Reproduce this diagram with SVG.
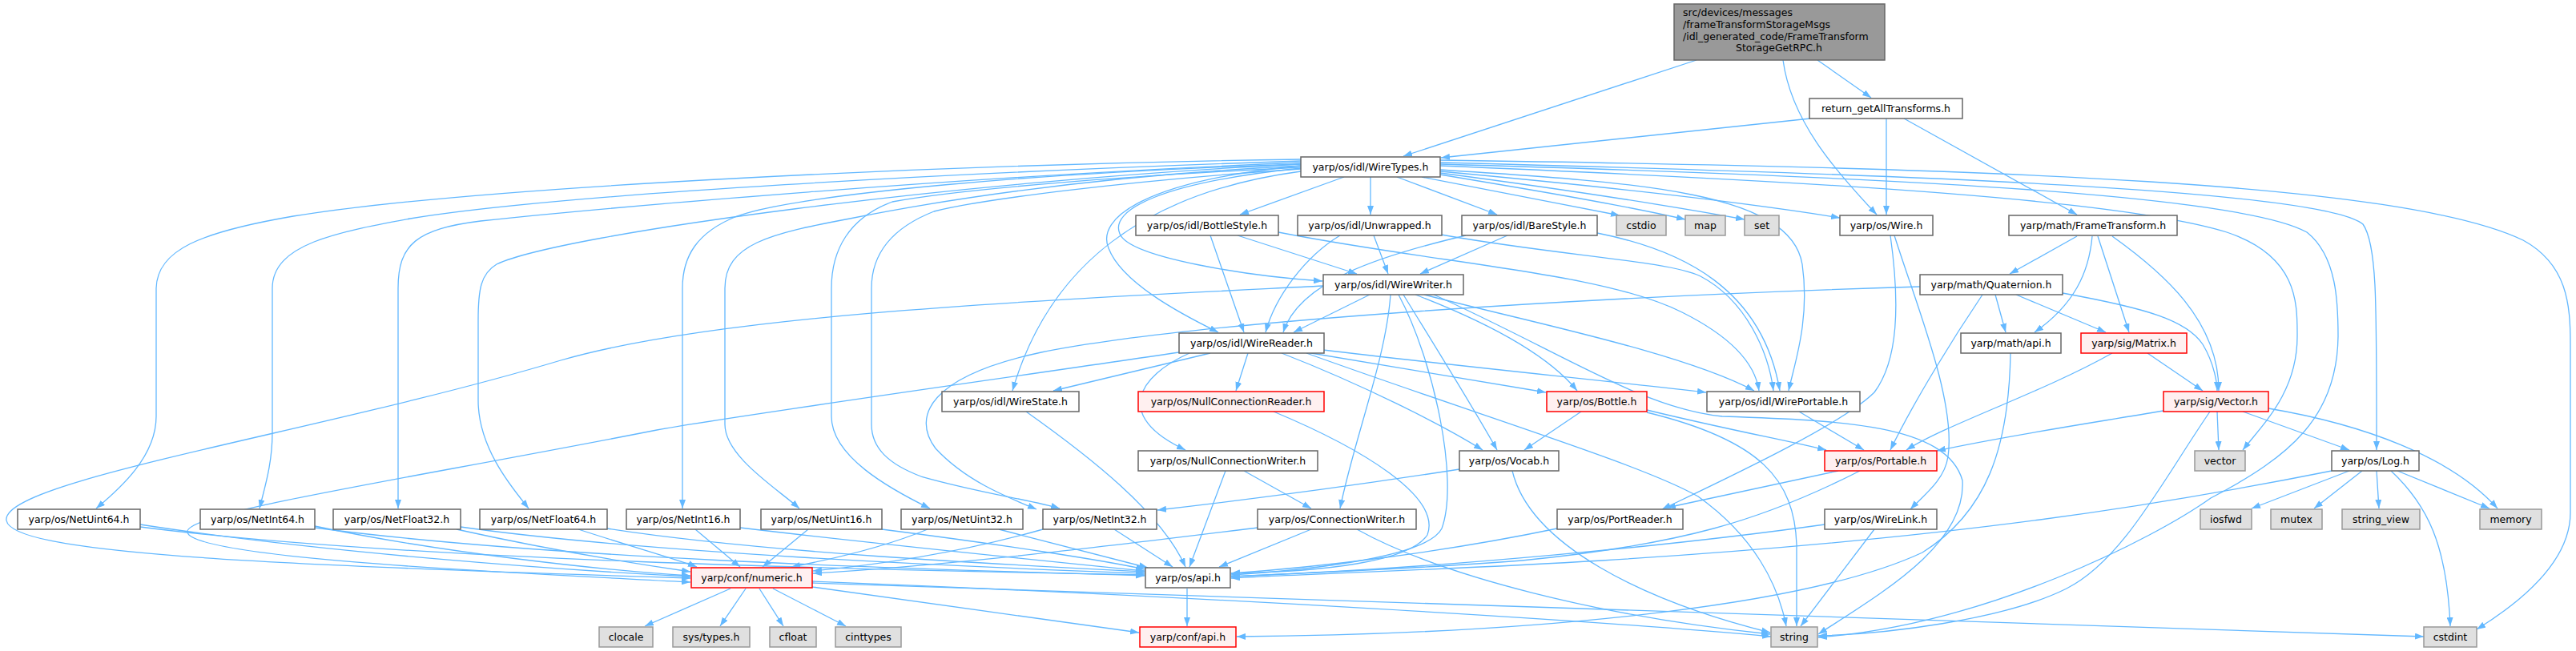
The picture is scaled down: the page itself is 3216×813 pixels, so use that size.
<svg xmlns="http://www.w3.org/2000/svg" width="3216" height="813" viewBox="0 0 3216 813">
<style>
.n rect{fill:#ffffff;stroke:#666666;stroke-width:1.5}
.x rect{fill:#e0e0e0;stroke:#999999;stroke-width:1.5}
.r rect{fill:#fff0f0;stroke:#ff0000;stroke-width:1.5}
.root rect{fill:#999999;stroke:#666666;stroke-width:1.5}
text{font-family:"DejaVu Sans",sans-serif;font-size:12.5px;fill:#000000;text-anchor:middle}
#edges path{fill:none;stroke:#63b8ff;stroke-width:1.3;marker-end:url(#a)}
</style>
<defs>
<marker id="a" markerWidth="11" markerHeight="8" refX="11" refY="4" orient="auto" markerUnits="userSpaceOnUse"><path d="M0,0 L11,4 L0,8 z" fill="#63b8ff" stroke="none"/></marker>
</defs>
<rect width="3216" height="813" fill="#ffffff"/>
<g id="edges">
<path d="M2118,75 L1752,195"/>
<path d="M2226,75 C2236,150 2290,212 2343,268"/>
<path d="M2269,75 L2336,122"/>
<path d="M2260,148 L1799,197"/>
<path d="M2355,148 L2355,268"/>
<path d="M2377,148 L2593,268"/>
<path d="M1798,214 C1950,228 2150,248 2297,272"/>
<path d="M1775,221 L2022,269"/>
<path d="M1798,218 C1900,235 2020,255 2104,274"/>
<path d="M1798,216 C1950,236 2090,258 2178,274"/>
<path d="M1678,221 L1548,268"/>
<path d="M1711,221 L1711,268"/>
<path d="M1744,221 L1869,268"/>
<path d="M1624,210 C1450,228 1385,262 1398,292 C1410,322 1560,345 1651,351"/>
<path d="M1624,207 C1430,226 1368,272 1384,310 C1400,352 1470,390 1521,415"/>
<path d="M1624,214 C1430,240 1310,330 1264,488"/>
<path d="M1798,212 C2050,228 2235,240 2250,330 C2260,400 2240,455 2233,488"/>
<path d="M1798,207 C2300,228 2650,250 2780,290 C2870,320 2868,380 2868,420 C2868,490 2825,530 2800,562"/>
<path d="M1798,205 C2400,222 2800,245 2880,290 C2918,320 2919,380 2919,420 C2918,520 2860,570 2760,622 C2690,672 2480,780 2270,796"/>
<path d="M1798,203 C2400,218 2900,238 2950,280 C2968,305 2967,380 2967,562"/>
<path d="M1798,200 C2500,210 3000,228 3150,300 C3205,330 3209,380 3209,430 L3209,640 C3209,700 3150,750 3092,786"/>
<path d="M1624,199 C1200,205 600,232 366,270 C250,290 196,312 195,360 L195,520 C195,570 150,610 120,635"/>
<path d="M1624,201 C1200,215 700,242 512,273 C420,290 340,305 340,360 L340,540 C340,580 330,610 324,635"/>
<path d="M1624,203 C1200,220 750,260 600,276 C520,286 497,305 497,360 L497,635"/>
<path d="M1624,205 C1200,225 700,292 620,330 C600,342 597,362 597,400 L597,500 C597,560 640,610 660,635"/>
<path d="M1624,205 C1300,215 1000,242 920,270 C870,290 852,320 852,360 L852,635"/>
<path d="M1624,207 C1350,220 1150,255 1061,273 C960,292 905,305 905,360 L905,530 C905,570 970,610 998,635"/>
<path d="M1624,209 C1400,220 1200,236 1114,252 C1060,272 1038,312 1038,360 L1038,520 C1038,570 1110,610 1161,635"/>
<path d="M1624,211 C1400,226 1220,250 1166,264 C1110,286 1088,320 1088,360 L1088,530 C1088,560 1110,580 1150,595 C1220,615 1290,625 1323,635"/>
<path d="M1511,294 L1553,415"/>
<path d="M1545,294 L1694,342"/>
<path d="M1596,290 C1800,330 2000,340 2100,390 C2170,425 2192,460 2196,488"/>
<path d="M1673,294 C1630,320 1592,370 1580,415"/>
<path d="M1715,294 L1733,342"/>
<path d="M1799,293 C1950,320 2080,325 2123,345 C2180,375 2208,440 2214,488"/>
<path d="M1830,294 C1720,320 1622,352 1602,415"/>
<path d="M1882,294 L1773,342"/>
<path d="M1994,291 C2100,312 2200,360 2222,488"/>
<path d="M1710,368 L1615,415"/>
<path d="M1652,357 C1300,375 900,392 700,450 C400,540 0,600 8,650 C15,690 300,705 862,722"/>
<path d="M1472,440 C1200,480 900,522 820,537 C500,600 228,640 234,665 C245,700 700,718 862,727"/>
<path d="M2397,358 C2000,370 1500,400 1300,440 C1160,470 1138,520 1168,560 C1205,600 1255,620 1294,636"/>
<path d="M1736,368 C1730,450 1690,550 1673,635"/>
<path d="M1746,368 C1790,450 1822,600 1800,660 C1780,700 1600,714 1537,718"/>
<path d="M1752,368 C1790,430 1840,510 1869,562"/>
<path d="M1767,368 C1850,400 1930,440 1969,488"/>
<path d="M1778,368 C1900,400 2100,440 2190,488"/>
<path d="M1790,368 C1950,440 2050,510 2150,520 C2300,525 2430,530 2450,600 C2455,680 2350,740 2270,792"/>
<path d="M2491,368 L2504,415"/>
<path d="M2517,368 L2629,415"/>
<path d="M2575,366 C2680,385 2730,400 2750,430 C2765,455 2768,480 2768,488"/>
<path d="M2475,368 C2440,420 2390,500 2360,562"/>
<path d="M2593,295 L2509,342"/>
<path d="M2612,295 C2608,340 2590,380 2540,415"/>
<path d="M2619,295 L2658,415"/>
<path d="M2637,295 C2700,340 2770,400 2770,488"/>
<path d="M2681,441 L2750,488"/>
<path d="M2637,441 C2550,490 2430,530 2380,562"/>
<path d="M2701,513 C2600,530 2500,545 2418,563"/>
<path d="M2768,514 L2770,562"/>
<path d="M2800,514 L2933,562"/>
<path d="M2832,510 C2950,530 3060,570 3118,635"/>
<path d="M2759,514 C2700,600 2650,700 2580,735 C2500,775 2350,792 2270,794"/>
<path d="M2933,588 L2811,635"/>
<path d="M2949,588 L2889,635"/>
<path d="M2967,588 L2970,635"/>
<path d="M2993,588 L3108,635"/>
<path d="M2985,588 C3030,630 3055,680 3059,782"/>
<path d="M2911,588 C2700,630 2450,672 2000,700 C1800,712 1600,718 1537,722"/>
<path d="M2510,441 C2508,560 2480,640 2400,690 C2250,760 1900,792 1544,795"/>
<path d="M2295,588 L2081,634"/>
<path d="M2322,588 C2200,650 2100,680 1900,700 C1750,712 1600,716 1537,720"/>
<path d="M2360,294 C2372,380 2370,450 2340,490 C2300,530 2150,600 2075,636"/>
<path d="M2365,294 C2392,380 2442,500 2432,570 C2428,600 2400,620 2385,636"/>
<path d="M2278,655 C2100,680 1800,710 1537,720"/>
<path d="M2340,661 L2248,782"/>
<path d="M1944,660 C1800,690 1650,708 1537,716"/>
<path d="M1637,661 L1522,708"/>
<path d="M1694,661 C1800,720 2000,770 2210,792"/>
<path d="M1570,659 C1400,680 1200,705 1015,716"/>
<path d="M1822,586 C1700,605 1550,625 1445,637"/>
<path d="M1888,588 C1910,680 2050,750 2210,790"/>
<path d="M1974,514 L1903,562"/>
<path d="M2056,512 C2150,535 2230,550 2280,562"/>
<path d="M2056,515 C2200,550 2240,600 2243,680 L2243,782"/>
<path d="M2246,514 L2327,562"/>
<path d="M1631,440 L1930,490"/>
<path d="M1652,437 C1800,455 2000,475 2130,490"/>
<path d="M1600,441 C1700,480 1800,530 1851,562"/>
<path d="M1631,441 C1850,520 2050,580 2120,620 C2190,670 2220,730 2230,782"/>
<path d="M1558,441 L1543,488"/>
<path d="M1485,441 C1420,470 1390,520 1480,562"/>
<path d="M1511,441 L1315,488"/>
<path d="M1281,514 C1360,570 1450,640 1480,708"/>
<path d="M1590,514 C1700,560 1800,620 1782,668 C1760,702 1650,714 1537,716"/>
<path d="M1530,588 L1485,708"/>
<path d="M1553,588 L1637,635"/>
<path d="M175,655 C400,690 700,712 862,720"/>
<path d="M175,658 C500,700 1100,712 1429,718"/>
<path d="M393,657 C550,690 750,712 862,719"/>
<path d="M393,659 C700,700 1200,712 1429,719"/>
<path d="M570,661 C700,690 800,705 862,714"/>
<path d="M575,658 C800,690 1200,708 1429,716"/>
<path d="M722,661 C780,680 850,700 870,708"/>
<path d="M758,660 C950,690 1250,705 1429,714"/>
<path d="M868,661 L924,708"/>
<path d="M924,659 C1100,680 1300,700 1429,713"/>
<path d="M1009,661 L952,708"/>
<path d="M1101,661 C1250,680 1380,700 1429,711"/>
<path d="M1158,661 C1100,685 1030,700 988,708"/>
<path d="M1247,661 C1320,680 1400,700 1433,709"/>
<path d="M1302,661 C1200,690 1100,705 1015,713"/>
<path d="M1391,661 L1464,708"/>
<path d="M912,735 L805,782"/>
<path d="M931,735 L899,782"/>
<path d="M948,735 L978,782"/>
<path d="M965,735 L1056,782"/>
<path d="M1014,733 L1422,790"/>
<path d="M1014,726 C1500,745 2000,775 2211,795"/>
<path d="M1014,728 C1800,755 2600,780 3026,795"/>
<path d="M1482,735 L1482,782"/>
</g>
<g id="n0" class="root"><rect x="2090" y="5" width="263" height="70"/><text x="2101" y="20" style="text-anchor:start">src/devices/messages</text><text x="2101" y="35" style="text-anchor:start">/frameTransformStorageMsgs</text><text x="2101" y="50" style="text-anchor:start">/idl_generated_code/FrameTransform</text><text x="2221" y="64">StorageGetRPC.h</text></g>
<g id="n1" class="n"><rect x="2259" y="123" width="191" height="25"/><text x="2354.5" y="140">return_getAllTransforms.h</text></g>
<g id="n2" class="n"><rect x="1624" y="196" width="174" height="25"/><text x="1711" y="213">yarp/os/idl/WireTypes.h</text></g>
<g id="n3" class="n"><rect x="2297" y="269" width="116" height="25"/><text x="2355" y="286">yarp/os/Wire.h</text></g>
<g id="n4" class="n"><rect x="1418" y="269" width="178" height="25"/><text x="1507" y="286">yarp/os/idl/BottleStyle.h</text></g>
<g id="n5" class="n"><rect x="1620" y="269" width="180" height="25"/><text x="1710" y="286">yarp/os/idl/Unwrapped.h</text></g>
<g id="n6" class="n"><rect x="1825" y="269" width="169" height="25"/><text x="1909.5" y="286">yarp/os/idl/BareStyle.h</text></g>
<g id="n7" class="x"><rect x="2018" y="269" width="62" height="25"/><text x="2049" y="286">cstdio</text></g>
<g id="n8" class="x"><rect x="2104" y="269" width="50" height="25"/><text x="2129" y="286">map</text></g>
<g id="n9" class="x"><rect x="2178" y="269" width="43" height="25"/><text x="2199.5" y="286">set</text></g>
<g id="n10" class="n"><rect x="2508" y="269" width="210" height="25"/><text x="2613" y="286">yarp/math/FrameTransform.h</text></g>
<g id="n11" class="n"><rect x="1652" y="343" width="175" height="25"/><text x="1739.5" y="360">yarp/os/idl/WireWriter.h</text></g>
<g id="n12" class="n"><rect x="2397" y="343" width="178" height="25"/><text x="2486" y="360">yarp/math/Quaternion.h</text></g>
<g id="n13" class="n"><rect x="1472" y="416" width="181" height="25"/><text x="1562.5" y="433">yarp/os/idl/WireReader.h</text></g>
<g id="n14" class="n"><rect x="2448" y="416" width="125" height="25"/><text x="2510.5" y="433">yarp/math/api.h</text></g>
<g id="n15" class="r"><rect x="2598" y="416" width="132" height="25"/><text x="2664" y="433">yarp/sig/Matrix.h</text></g>
<g id="n16" class="n"><rect x="1176" y="489" width="171" height="25"/><text x="1261.5" y="506">yarp/os/idl/WireState.h</text></g>
<g id="n17" class="r"><rect x="1421" y="489" width="232" height="25"/><text x="1537" y="506">yarp/os/NullConnectionReader.h</text></g>
<g id="n18" class="r"><rect x="1931" y="489" width="125" height="25"/><text x="1993.5" y="506">yarp/os/Bottle.h</text></g>
<g id="n19" class="n"><rect x="2131" y="489" width="191" height="25"/><text x="2226.5" y="506">yarp/os/idl/WirePortable.h</text></g>
<g id="n20" class="r"><rect x="2701" y="489" width="131" height="25"/><text x="2766.5" y="506">yarp/sig/Vector.h</text></g>
<g id="n21" class="n"><rect x="1421" y="563" width="224" height="25"/><text x="1533" y="580">yarp/os/NullConnectionWriter.h</text></g>
<g id="n22" class="n"><rect x="1822" y="563" width="124" height="25"/><text x="1884" y="580">yarp/os/Vocab.h</text></g>
<g id="n23" class="r"><rect x="2278" y="563" width="140" height="25"/><text x="2348" y="580">yarp/os/Portable.h</text></g>
<g id="n24" class="x"><rect x="2740" y="563" width="63" height="25"/><text x="2771.5" y="580">vector</text></g>
<g id="n25" class="n"><rect x="2911" y="563" width="109" height="25"/><text x="2965.5" y="580">yarp/os/Log.h</text></g>
<g id="n26" class="n"><rect x="22" y="636" width="153" height="25"/><text x="98.5" y="653">yarp/os/NetUint64.h</text></g>
<g id="n27" class="n"><rect x="250" y="636" width="143" height="25"/><text x="321.5" y="653">yarp/os/NetInt64.h</text></g>
<g id="n28" class="n"><rect x="416" y="636" width="159" height="25"/><text x="495.5" y="653">yarp/os/NetFloat32.h</text></g>
<g id="n29" class="n"><rect x="599" y="636" width="159" height="25"/><text x="678.5" y="653">yarp/os/NetFloat64.h</text></g>
<g id="n30" class="n"><rect x="782" y="636" width="142" height="25"/><text x="853" y="653">yarp/os/NetInt16.h</text></g>
<g id="n31" class="n"><rect x="950" y="636" width="151" height="25"/><text x="1025.5" y="653">yarp/os/NetUint16.h</text></g>
<g id="n32" class="n"><rect x="1125" y="636" width="152" height="25"/><text x="1201" y="653">yarp/os/NetUint32.h</text></g>
<g id="n33" class="n"><rect x="1302" y="636" width="142" height="25"/><text x="1373" y="653">yarp/os/NetInt32.h</text></g>
<g id="n34" class="n"><rect x="1570" y="636" width="198" height="25"/><text x="1669" y="653">yarp/os/ConnectionWriter.h</text></g>
<g id="n35" class="n"><rect x="1944" y="636" width="157" height="25"/><text x="2022.5" y="653">yarp/os/PortReader.h</text></g>
<g id="n36" class="n"><rect x="2278" y="636" width="140" height="25"/><text x="2348" y="653">yarp/os/WireLink.h</text></g>
<g id="n37" class="x"><rect x="2747" y="636" width="64" height="25"/><text x="2779" y="653">iosfwd</text></g>
<g id="n38" class="x"><rect x="2835" y="636" width="64" height="25"/><text x="2867" y="653">mutex</text></g>
<g id="n39" class="x"><rect x="2924" y="636" width="97" height="25"/><text x="2972.5" y="653">string_view</text></g>
<g id="n40" class="x"><rect x="3096" y="636" width="77" height="25"/><text x="3134.5" y="653">memory</text></g>
<g id="n41" class="r"><rect x="863" y="709" width="151" height="25"/><text x="938.5" y="726">yarp/conf/numeric.h</text></g>
<g id="n42" class="n"><rect x="1430" y="709" width="106" height="25"/><text x="1483" y="726">yarp/os/api.h</text></g>
<g id="n43" class="x"><rect x="748" y="783" width="67" height="25"/><text x="781.5" y="800">clocale</text></g>
<g id="n44" class="x"><rect x="840" y="783" width="96" height="25"/><text x="888" y="800">sys/types.h</text></g>
<g id="n45" class="x"><rect x="961" y="783" width="58" height="25"/><text x="990" y="800">cfloat</text></g>
<g id="n46" class="x"><rect x="1043" y="783" width="82" height="25"/><text x="1084" y="800">cinttypes</text></g>
<g id="n47" class="r"><rect x="1423" y="783" width="120" height="25"/><text x="1483" y="800">yarp/conf/api.h</text></g>
<g id="n48" class="x"><rect x="2211" y="783" width="58" height="25"/><text x="2240" y="800">string</text></g>
<g id="n49" class="x"><rect x="3026" y="783" width="66" height="25"/><text x="3059" y="800">cstdint</text></g>
</svg>
